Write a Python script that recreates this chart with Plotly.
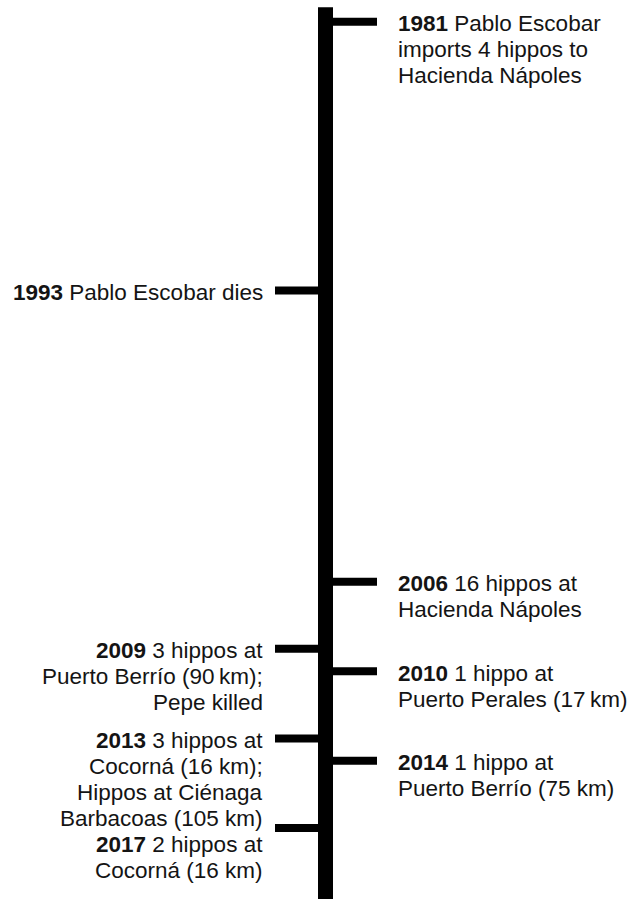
import plotly.graph_objects as go

# ---- data -------------------------------------------------------------
years = [1981, 1993, 2006, 2009, 2010, 2013, 2014, 2017]
sides = ["right", "left", "right", "left", "right", "left", "right", "left"]
descriptions = [
    ["Pablo Escobar", "imports 4 hippos to", "Hacienda Nápoles"],
    ["Pablo Escobar dies"],
    ["16 hippos at", "Hacienda Nápoles"],
    ["3 hippos at", "Puerto Berrío (90\u2009km);", "Pepe killed"],
    ["1 hippo at", "Puerto Perales (17\u2009km)"],
    ["3 hippos at", "Cocorná (16 km);", "Hippos at Ciénaga", "Barbacoas (105 km)"],
    ["1 hippo at", "Puerto Berrío (75 km)"],
    ["2 hippos at", "Cocorná (16 km)"],
]

# ---- style / layout ---------------------------------------------------
W, H = 632, 899
Y_TOP, Y_BOTTOM = 1980.03, 2020.17          # axis range (top -> bottom)
PX_PER_YEAR = H / (Y_BOTTOM - Y_TOP)
BAR_X = 325.5
TICK_R, TICK_L = 51.5, 50.5
TEXT_X = {"right": 395.5, "left": 265}
LINE_H = 26
TEXT_OFFSET = 2
FONT = dict(family="Liberation Sans, Arial, Helvetica, sans-serif", size=22.5, color="#141414")

fig = go.Figure()

# main vertical bar
fig.add_trace(go.Scatter(
    x=[BAR_X, BAR_X], y=[min(years) - 0.65, max(years) + 4],
    mode="lines", line=dict(color="black", width=15), hoverinfo="skip"))

# ticks
tx, ty = [], []
for yr, side in zip(years, sides):
    end = BAR_X + TICK_R if side == "right" else BAR_X - TICK_L
    tx += [BAR_X, end, None]
    ty += [yr, yr, None]
fig.add_trace(go.Scatter(x=tx, y=ty, mode="lines",
                         line=dict(color="black", width=8), hoverinfo="skip"))

# labels (one annotation per line, pushed down to avoid overlaps)
def to_px(yr):
    return (yr - Y_TOP) * PX_PER_YEAR

last_end = {"right": -1e9, "left": -1e9}
for yr, side, lines in zip(years, sides, descriptions):
    tick_px = to_px(yr)
    first = max(tick_px + TEXT_OFFSET, last_end[side] + LINE_H)
    for i, ln in enumerate(lines):
        txt = f"<b>{yr}</b> {ln}" if i == 0 else ln
        fig.add_annotation(
            x=TEXT_X[side], y=yr, xref="x", yref="y",
            text=txt, showarrow=False,
            xanchor="left" if side == "right" else "right",
            align="left" if side == "right" else "right",
            yanchor="middle",
            yshift=-(first - tick_px + i * LINE_H),
            font=FONT,
        )
    last_end[side] = first + (len(lines) - 1) * LINE_H

fig.update_layout(
    width=W, height=H, margin=dict(l=0, r=0, t=0, b=0),
    paper_bgcolor="white", plot_bgcolor="white", showlegend=False,
    xaxis=dict(range=[0, W], visible=False, fixedrange=True),
    yaxis=dict(range=[Y_BOTTOM, Y_TOP], visible=False, fixedrange=True),
)

fig.write_html(
    "out.html",
    config={"displayModeBar": False},
    post_script="document.body.style.margin='0';document.body.style.overflow='hidden';",
)
